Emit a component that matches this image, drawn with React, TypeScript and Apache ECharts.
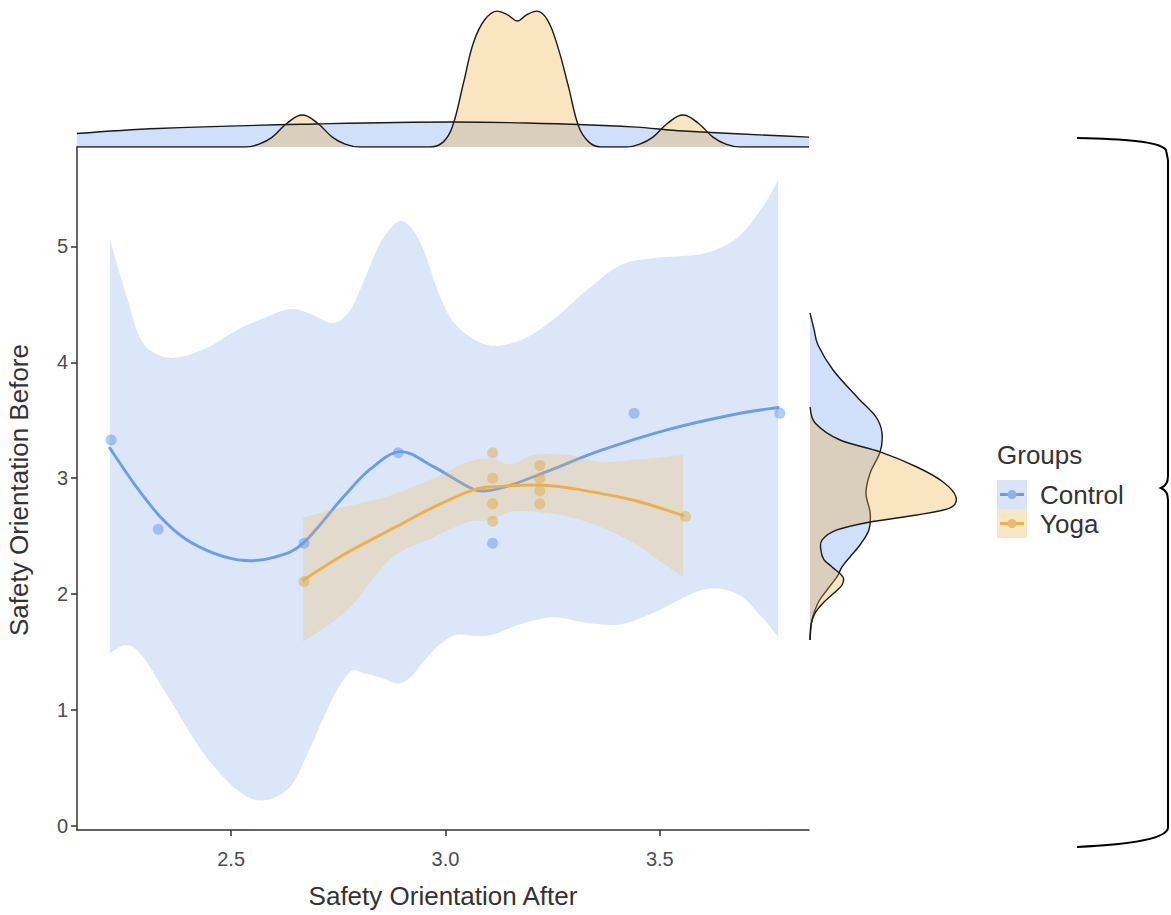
import React, { useEffect, useRef } from 'react';
import * as echarts from 'echarts';

const FONT = "'Liberation Sans', Arial, Helvetica, sans-serif";

// ---- axis ranges / ticks ----
const X_MIN = 2.1404;
const X_MAX = 3.848;
const Y_MIN = -0.035;
const Y_MAX = 5.858;
const xTicks = [2.5, 3.0, 3.5];
const yTicks = [0, 1, 2, 3, 4, 5];

// ---- raw points ----
const controlX = [2.22, 2.33, 2.67, 2.89, 3.11, 3.44, 3.78];
const controlY = [3.33, 2.56, 2.44, 3.22, 2.44, 3.56, 3.56];
const yogaX = [2.67, 3.11, 3.11, 3.11, 3.11, 3.22, 3.22, 3.22, 3.22, 3.56];
const yogaY = [2.11, 3.22, 3.0, 2.78, 2.63, 3.11, 3.0, 2.89, 2.78, 2.67];

// ---- loess fits ----
const controlFitX = [2.217, 2.276, 2.334, 2.392, 2.462, 2.532, 2.602, 2.668, 2.762, 2.825, 2.895, 2.972, 3.051, 3.089, 3.152, 3.245, 3.362, 3.519, 3.673, 3.776];
const controlFitY = [3.26, 2.94, 2.67, 2.48, 2.35, 2.29, 2.32, 2.44, 2.84, 3.08, 3.23, 3.10, 2.93, 2.89, 2.94, 3.07, 3.24, 3.42, 3.55, 3.61];
const yogaFitX = [2.668, 2.762, 2.879, 2.972, 3.065, 3.129, 3.229, 3.315, 3.439, 3.554];
const yogaFitY = [2.12, 2.34, 2.57, 2.75, 2.90, 2.93, 2.94, 2.90, 2.81, 2.68];

// ---- confidence bands ----
const controlBandX = [2.217, 2.257, 2.294, 2.357, 2.435, 2.514, 2.575, 2.638, 2.685, 2.738, 2.778, 2.808, 2.848, 2.888, 2.918, 2.949, 2.988, 3.028, 3.098, 3.175, 3.252, 3.332, 3.409, 3.486, 3.603, 3.682, 3.736, 3.776];
const controlBandUpper = [5.06, 4.56, 4.17, 4.04, 4.11, 4.28, 4.38, 4.46, 4.42, 4.34, 4.45, 4.69, 5.03, 5.21, 5.17, 4.97, 4.56, 4.31, 4.15, 4.19, 4.37, 4.63, 4.84, 4.90, 4.94, 5.08, 5.32, 5.57];
const controlBandLower = [1.49, 1.56, 1.46, 1.09, 0.63, 0.31, 0.22, 0.34, 0.68, 1.11, 1.33, 1.32, 1.28, 1.23, 1.28, 1.42, 1.57, 1.65, 1.64, 1.74, 1.80, 1.75, 1.74, 1.84, 2.04, 2.00, 1.81, 1.63];
const yogaBandX = [2.668, 2.771, 2.871, 2.972, 3.051, 3.105, 3.152, 3.206, 3.285, 3.362, 3.439, 3.502, 3.554];
const yogaBandUpper = [2.66, 2.76, 2.85, 3.00, 3.14, 3.17, 3.12, 3.20, 3.20, 3.14, 3.16, 3.18, 3.20];
const yogaBandLower = [1.59, 1.86, 2.30, 2.49, 2.62, 2.64, 2.71, 2.71, 2.67, 2.58, 2.44, 2.28, 2.15];

// ---- top marginal densities (x : density) ----
const topControlX = [2.140, 2.329, 2.696, 3.016, 3.189, 3.435, 3.556, 3.848];
const topControlD = [0.42, 0.58, 0.72, 0.78, 0.75, 0.63, 0.50, 0.31];
const topYogaX = [2.140, 2.533, 2.565, 2.596, 2.631, 2.666, 2.701, 2.736, 2.766, 2.799, 2.965, 2.995, 3.016, 3.042, 3.065, 3.091, 3.121, 3.145, 3.168, 3.189, 3.213, 3.238, 3.262, 3.287, 3.311, 3.334, 3.362, 3.421, 3.453, 3.484, 3.519, 3.554, 3.589, 3.624, 3.654, 3.687, 3.848];
const topYogaD = [0, 0, 0.09, 0.31, 0.75, 1.0, 0.75, 0.31, 0.09, 0, 0, 0.16, 0.63, 2.0, 3.25, 3.97, 4.25, 4.13, 3.94, 4.13, 4.25, 3.97, 3.13, 1.88, 0.63, 0.16, 0, 0, 0.09, 0.31, 0.75, 1.0, 0.75, 0.31, 0.09, 0, 0];

// ---- right marginal densities (y : density) ----
const rightControlY = [4.426, 4.280, 4.150, 3.934, 3.701, 3.529, 3.391, 3.227, 3.046, 2.873, 2.701, 2.554, 2.424, 2.321, 2.235, 2.148, 2.036, 1.924, 1.777, 1.605];
const rightControlD = [0, 0.13, 0.25, 0.72, 1.47, 2.06, 2.25, 2.19, 1.88, 1.75, 1.88, 1.84, 1.56, 1.25, 1.0, 0.84, 0.53, 0.25, 0.06, 0];
const rightYogaY = [3.615, 3.477, 3.330, 3.227, 3.097, 2.968, 2.839, 2.744, 2.683, 2.623, 2.554, 2.468, 2.381, 2.295, 2.235, 2.148, 2.079, 2.010, 1.924, 1.838, 1.734, 1.605];
const rightYogaD = [0, 0.16, 0.94, 2.19, 3.34, 4.16, 4.56, 4.38, 3.34, 1.88, 0.84, 0.38, 0.34, 0.44, 0.69, 1.03, 1.0, 0.75, 0.41, 0.16, 0.03, 0];

const groups = ['Control', 'Yoga'];

const BRACE = 'M1077,138 C1120,139 1160,141 1166,150 L1168,160 L1168,476 C1168,482 1166,486 1161,488 C1166,490 1168,494 1168,500 L1168,828 C1166,840 1120,845 1077,847';

let braceRegistered = false;
function registerBrace() {
  if (braceRegistered) return;
  echarts.graphic.registerShape('brace', echarts.graphic.extendPath(BRACE, {}) as any);
  braceRegistered = true;
}

const zip = (a: number[], b: number[]) => a.map((v, i) => [v, b[i]]);

function catmull(pts: number[][], move: boolean): string {
  let d = (move ? 'M' : 'L') + pts[0][0].toFixed(2) + ',' + pts[0][1].toFixed(2);
  for (let i = 0; i < pts.length - 1; i++) {
    const p0 = pts[i - 1] || pts[i];
    const p1 = pts[i];
    const p2 = pts[i + 1];
    const p3 = pts[i + 2] || p2;
    const c1x = p1[0] + (p2[0] - p0[0]) / 6;
    const c1y = p1[1] + (p2[1] - p0[1]) / 6;
    const c2x = p2[0] - (p3[0] - p1[0]) / 6;
    const c2y = p2[1] - (p3[1] - p1[1]) / 6;
    d += ` C${c1x.toFixed(2)},${c1y.toFixed(2)} ${c2x.toFixed(2)},${c2y.toFixed(2)} ${p2[0].toFixed(2)},${p2[1].toFixed(2)}`;
  }
  return d;
}

function bandSeries(xs: number[], up: number[], lo: number[], fill: string) {
  return {
    type: 'custom',
    coordinateSystem: 'cartesian2d',
    xAxisIndex: 0,
    yAxisIndex: 0,
    silent: true,
    data: [[xs[0], up[0]]],
    renderItem: (_p: any, api: any) => {
      const upper = xs.map((x, i) => api.coord([x, up[i]]));
      const lower = xs.map((x, i) => api.coord([x, lo[i]])).reverse();
      const d = catmull(upper, true) + ' ' + catmull(lower, false) + ' Z';
      return { type: 'path', shape: { pathData: d }, style: { fill, stroke: 'none' } };
    },
  };
}

function fitSeries(xs: number[], ys: number[], color: string) {
  return {
    type: 'custom',
    coordinateSystem: 'cartesian2d',
    xAxisIndex: 0,
    yAxisIndex: 0,
    silent: true,
    data: [[xs[0], ys[0]]],
    renderItem: (_p: any, api: any) => {
      const pts = xs.map((x, i) => api.coord([x, ys[i]]));
      return {
        type: 'path',
        shape: { pathData: catmull(pts, true) },
        style: { fill: 'none', stroke: color, lineWidth: 2.9, lineCap: 'round', lineJoin: 'round' },
      };
    },
  };
}

function rightDensitySeries(ys: number[], ds: number[], fill: string) {
  return {
    type: 'custom',
    coordinateSystem: 'cartesian2d',
    xAxisIndex: 2,
    yAxisIndex: 2,
    silent: true,
    data: [[ds[0], ys[0]]],
    renderItem: (_p: any, api: any) => {
      const pts = ys.map((y, i) => api.coord([ds[i], y]));
      const curve = catmull(pts, true);
      return {
        type: 'group',
        children: [
          { type: 'path', shape: { pathData: curve + ' Z' }, style: { fill, stroke: 'none' } },
          { type: 'path', shape: { pathData: curve }, style: { fill: 'none', stroke: '#1a1a1a', lineWidth: 1.4 } },
        ],
      };
    },
  };
}

const txt = (text: string, x: number, y: number, size: number, align: string, extra: any = {}) => ({
  type: 'text',
  x,
  y,
  ...extra,
  style: {
    text,
    fontSize: size,
    fontFamily: FONT,
    fill: '#333333',
    align,
    textAlign: align,
    verticalAlign: 'middle',
    textVerticalAlign: 'middle',
  },
});

export default function App() {
  const ref = useRef<HTMLDivElement>(null);

  useEffect(() => {
    if (!ref.current) return;
    registerBrace();
    const chart = echarts.init(ref.current, undefined, { renderer: 'svg' });

    const axisLineStyle = { color: '#333333', width: 1.5 };

    const option: any = {
      animation: false,
      textStyle: { fontFamily: FONT },
      grid: [
        { left: 77, top: 147, width: 732, height: 683 },
        { left: 77, top: 5, width: 732, height: 142 },
        { left: 810, top: 147, width: 160, height: 683 },
      ],
      xAxis: [
        {
          gridIndex: 0,
          type: 'value',
          min: X_MIN,
          max: X_MAX,
          axisLine: { show: true, onZero: false, lineStyle: axisLineStyle },
          axisTick: { show: true, length: 6, customValues: xTicks, lineStyle: axisLineStyle },
          axisLabel: {
            customValues: xTicks,
            formatter: (v: number) => v.toFixed(1),
            color: '#4d4d4d',
            fontSize: 20,
            margin: 19,
            fontFamily: FONT,
          },
          splitLine: { show: false },
        },
        { gridIndex: 1, type: 'value', min: X_MIN, max: X_MAX, show: false },
        { gridIndex: 2, type: 'value', min: 0, max: 5, show: false },
      ],
      yAxis: [
        {
          gridIndex: 0,
          type: 'value',
          min: Y_MIN,
          max: Y_MAX,
          axisLine: { show: true, onZero: false, lineStyle: axisLineStyle },
          axisTick: { show: true, length: 6, customValues: yTicks, lineStyle: axisLineStyle },
          axisLabel: {
            customValues: yTicks,
            formatter: (v: number) => String(v),
            color: '#4d4d4d',
            fontSize: 20,
            margin: 9,
            fontFamily: FONT,
          },
          splitLine: { show: false },
        },
        { gridIndex: 1, type: 'value', min: 0, max: 4.44, show: false },
        { gridIndex: 2, type: 'value', min: Y_MIN, max: Y_MAX, show: false },
      ],
      series: [
        {
          name: groups[0],
          type: 'scatter',
          xAxisIndex: 0,
          yAxisIndex: 0,
          data: zip(controlX, controlY),
          symbolSize: 11,
          itemStyle: { color: 'rgba(100,149,237,0.62)' },
          silent: true,
        },
        {
          name: groups[1],
          type: 'scatter',
          xAxisIndex: 0,
          yAxisIndex: 0,
          data: zip(yogaX, yogaY),
          symbolSize: 11,
          itemStyle: { color: 'rgba(222,170,70,0.6)' },
          silent: true,
        },
        bandSeries(controlBandX, controlBandUpper, controlBandLower, 'rgba(108,150,228,0.24)'),
        fitSeries(controlFitX, controlFitY, '#6b9ded'),
        bandSeries(yogaBandX, yogaBandUpper, yogaBandLower, 'rgba(245,185,70,0.25)'),
        fitSeries(yogaFitX, yogaFitY, '#ebb04a'),
        {
          type: 'line',
          xAxisIndex: 1,
          yAxisIndex: 1,
          data: zip(topControlX, topControlD),
          smooth: 0.4,
          symbol: 'none',
          lineStyle: { color: '#1a1a1a', width: 1.4 },
          areaStyle: { color: 'rgba(100,149,237,0.3)', opacity: 1 },
          silent: true,
        },
        {
          type: 'line',
          xAxisIndex: 1,
          yAxisIndex: 1,
          data: zip(topYogaX, topYogaD),
          smooth: 0.4,
          symbol: 'none',
          lineStyle: { color: '#1a1a1a', width: 1.4 },
          areaStyle: { color: 'rgba(235,175,60,0.32)', opacity: 1 },
          silent: true,
        },
        rightDensitySeries(rightControlY, rightControlD, 'rgba(100,149,237,0.3)'),
        rightDensitySeries(rightYogaY, rightYogaD, 'rgba(235,175,60,0.32)'),
      ],
      graphic: [
        txt('Safety Orientation After', 443, 896, 26, 'center'),
        txt('Safety Orientation Before', 19, 490, 26, 'center', { rotation: Math.PI / 2 }),
        txt('Groups', 997, 455, 26, 'left'),
        { type: 'rect', shape: { x: 997, y: 480, width: 30, height: 29 }, style: { fill: '#d9e4f7' } },
        { type: 'rect', shape: { x: 997, y: 509, width: 30, height: 29 }, style: { fill: '#f8e7c6' } },
        { type: 'line', shape: { x1: 1000, y1: 494.5, x2: 1024, y2: 494.5 }, style: { stroke: '#6b9ded', lineWidth: 3 } },
        { type: 'circle', shape: { cx: 1012, cy: 494.5, r: 4.5 }, style: { fill: '#8cb1ef' } },
        { type: 'line', shape: { x1: 1000, y1: 523.5, x2: 1024, y2: 523.5 }, style: { stroke: '#ebb04a', lineWidth: 3 } },
        { type: 'circle', shape: { cx: 1012, cy: 523.5, r: 4.5 }, style: { fill: '#e6bb6a' } },
        txt(groups[0], 1040, 494.5, 26, 'left'),
        txt(groups[1], 1040, 523.5, 26, 'left'),
        { type: 'brace', x: 0, y: 0, style: { stroke: '#000000', lineWidth: 2, fill: 'none' } },
      ],
    };

    chart.setOption(option);
    return () => {
      chart.dispose();
    };
  }, []);

  return (
    <div
      ref={ref}
      style={{ position: 'fixed', left: 0, top: 0, width: 1171, height: 915, background: '#ffffff' }}
    />
  );
}
